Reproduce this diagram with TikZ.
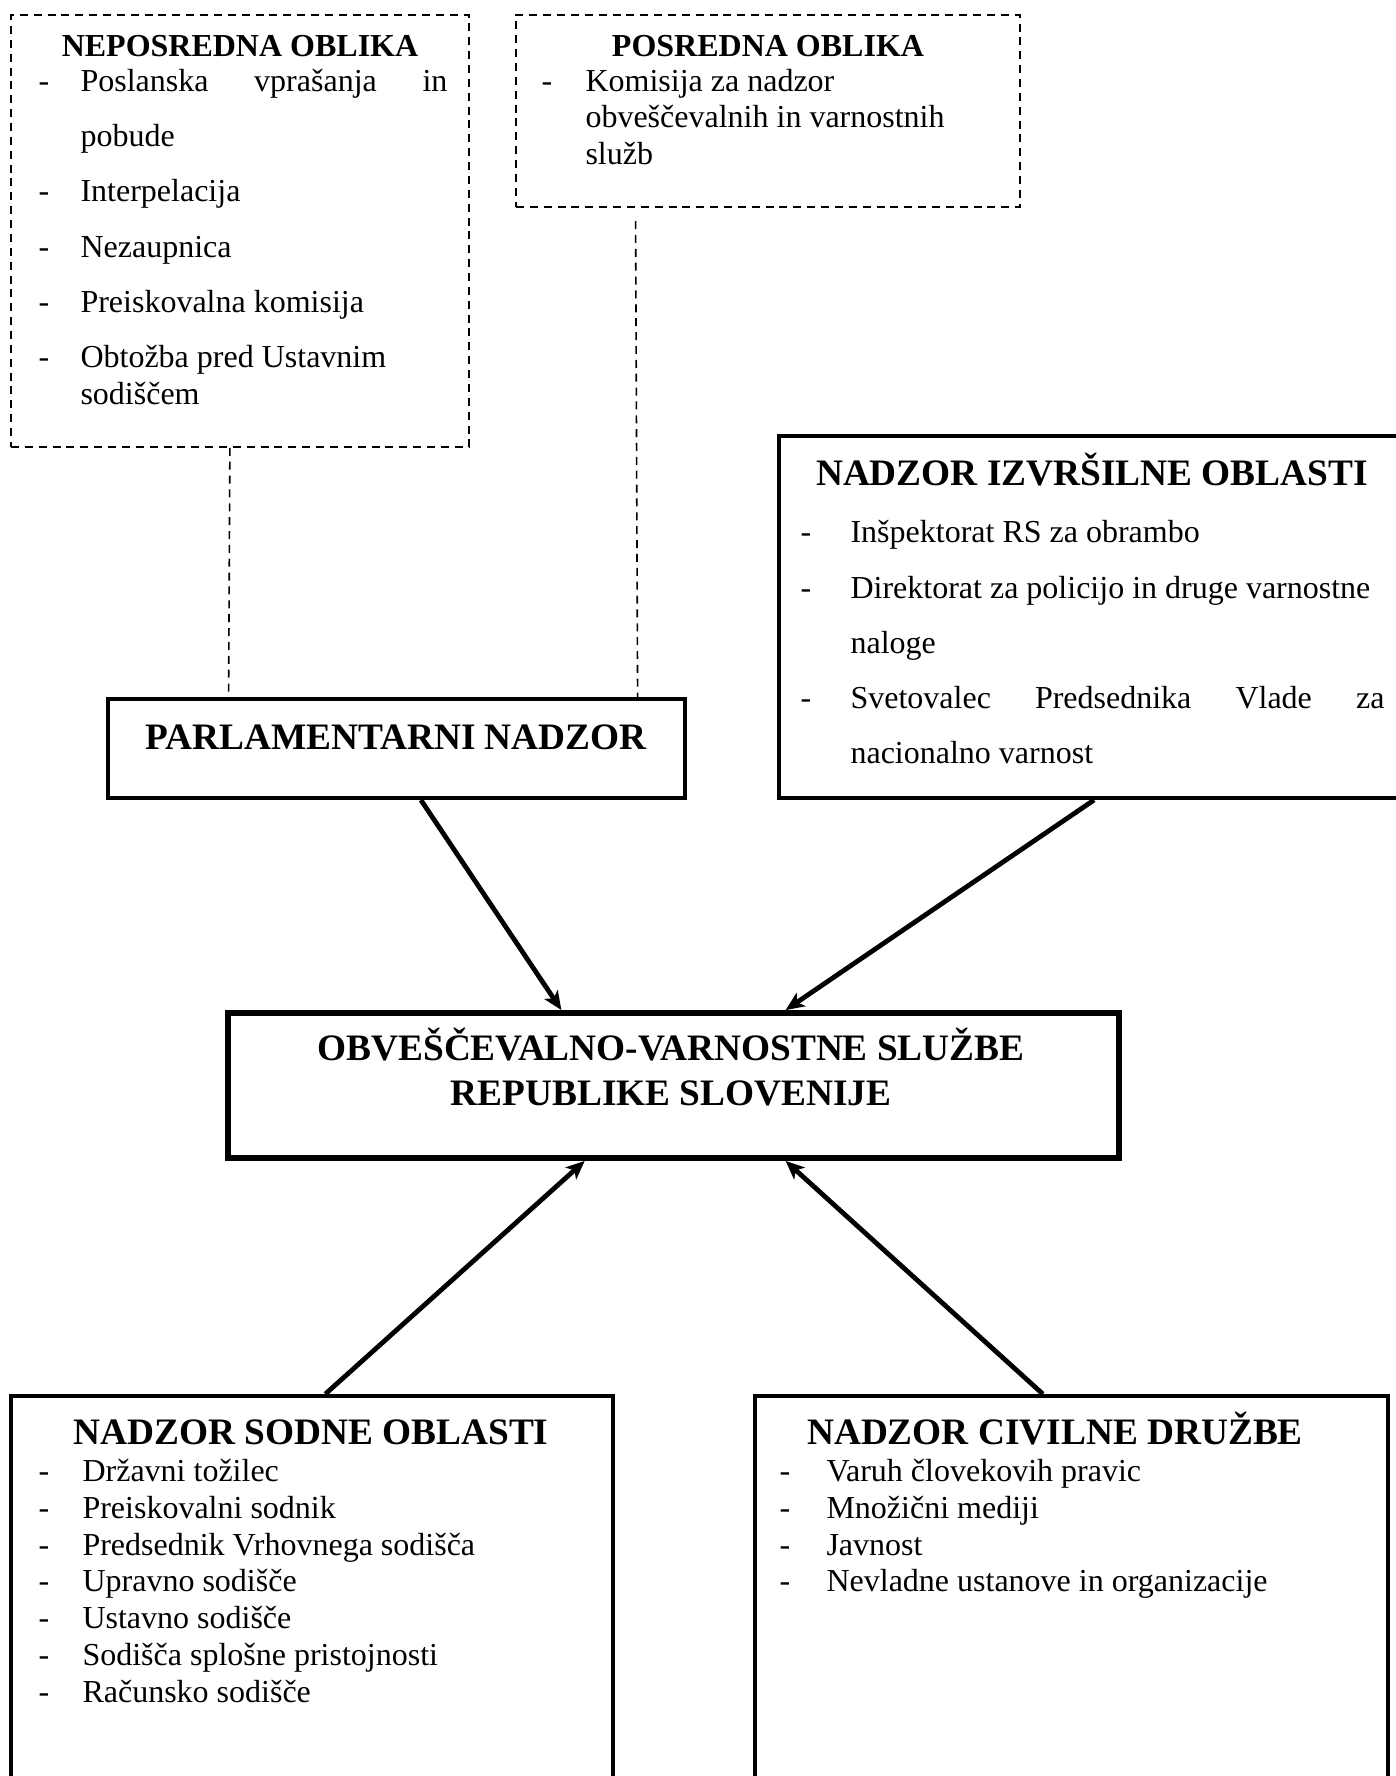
\documentclass[tikz,border=0pt]{standalone}
\usepackage{fontspec}
\setmainfont{Liberation Serif}
\usetikzlibrary{fit,calc,arrows.meta}
\begin{document}
\begin{tikzpicture}[x=0.375pt,y=-0.375pt,
  dbox/.style={draw, dash pattern=on 3pt off 2.2pt, line width=0.6pt, inner sep=0pt},
  sbox/.style={draw, line width=1.5pt, inner sep=0pt},
  cbox/.style={draw, line width=2.2pt, inner sep=0pt},
  hd/.style={anchor=base, inner sep=0pt, font=\fontsize{12}{14}\selectfont\bfseries},
  hdb/.style={anchor=base, inner sep=0pt, font=\fontsize{14}{16}\selectfont\bfseries},
  itm/.style={anchor=base west, inner sep=0pt, font=\fontsize{12}{14}\selectfont},
  dconn/.style={dash pattern=on 3pt off 2.2pt, line width=0.6pt},
  arr/.style={line width=1.8pt, -{Stealth[length=7pt, width=6pt, inset=1.8pt]}},
]
\useasboundingbox (0,0) rectangle (1396,1776);
\fill[white] (0,0) rectangle (1396,1776);

% boxes
\node[dbox, fit={(11,15) (469,447)}] (nep) {};
\node[dbox, fit={(516,15) (1020,207)}] (pos) {};
\node[sbox, fit={(108,699) (685,798)}] (parl) {};
\node[sbox, fit={(779,436) (1404,798)}] (izv) {};
\node[cbox, fit={(228,1013) (1119,1158)}] (ovs) {};
\node[sbox, fit={(11,1396) (613,1784)}] (sod) {};
\node[sbox, fit={(755,1396) (1388,1784)}] (civ) {};

% NEPOSREDNA OBLIKA
\node[hd] (nh) at (240,57) {NEPOSREDNA OBLIKA};
\node[itm] (nd1) at (38,92) {-};
\node[itm] (n1) at (80,92) {\makebox[137.6pt][s]{Poslanska\hfill vprašanja\hfill in}};
\node[itm] (n1b) at (80,147) {pobude};
\node[itm] (nd2) at (38,202) {-};
\node[itm] (n2) at (80,202) {Interpelacija};
\node[itm] (nd3) at (38,258) {-};
\node[itm] (n3) at (80,258) {Nezaupnica};
\node[itm] (nd4) at (38,313) {-};
\node[itm] (n4) at (80,313) {Preiskovalna komisija};
\node[itm] (nd5) at (38,367) {-};
\node[itm] (n5) at (80,367) {Obtožba pred Ustavnim};
\node[itm] (n5b) at (80,404) {sodiščem};

% POSREDNA OBLIKA
\node[hd] (ph) at (768,57) {POSREDNA OBLIKA};
\node[itm] (pd1) at (541,92) {-};
\node[itm] (p1) at (585,92) {Komisija za nadzor};
\node[itm] (p1b) at (585,128) {obveščevalnih in varnostnih};
\node[itm] (p1c) at (585,165) {služb};

% PARLAMENTARNI NADZOR
\node[hdb] (parlt) at (396,749) {PARLAMENTARNI NADZOR};

% NADZOR IZVRSILNE OBLASTI
\node[hdb] (ih) at (1092,485) {NADZOR IZVRŠILNE OBLASTI};
\node[itm] (id1) at (800,542) {-};
\node[itm] (i1) at (850,542) {Inšpektorat RS za obrambo};
\node[itm] (id2) at (800,598) {-};
\node[itm] (i2) at (850,598) {Direktorat za policijo in druge varnostne};
\node[itm] (i2b) at (850,653) {naloge};
\node[itm] (id3) at (800,708) {-};
\node[itm] (i3) at (850,708) {\makebox[200.2pt][s]{Svetovalec\hfill Predsednika\hfill Vlade\hfill za}};
\node[itm] (i3b) at (850,763) {nacionalno varnost};

% central
\node[hdb] (c1) at (671,1060) {OBVEŠČEVALNO-VARNOSTNE SLUŽBE};
\node[hdb] (c2) at (671,1105) {REPUBLIKE SLOVENIJE};

% NADZOR SODNE OBLASTI
\node[hdb] (sh) at (311,1444) {NADZOR SODNE OBLASTI};
\node[itm] (sd1) at (38,1481) {-};
\node[itm] (s1) at (82,1481) {Državni tožilec};
\node[itm] (sd2) at (38,1518) {-};
\node[itm] (s2) at (82,1518) {Preiskovalni sodnik};
\node[itm] (sd3) at (38,1555) {-};
\node[itm] (s3) at (82,1555) {Predsednik Vrhovnega sodišča};
\node[itm] (sd4) at (38,1591) {-};
\node[itm] (s4) at (82,1591) {Upravno sodišče};
\node[itm] (sd5) at (38,1628) {-};
\node[itm] (s5) at (82,1628) {Ustavno sodišče};
\node[itm] (sd6) at (38,1665) {-};
\node[itm] (s6) at (82,1665) {Sodišča splošne pristojnosti};
\node[itm] (sd7) at (38,1702) {-};
\node[itm] (s7) at (82,1702) {Računsko sodišče};

% NADZOR CIVILNE DRUZBE
\node[hdb] (ch) at (1055,1444) {NADZOR CIVILNE DRUŽBE};
\node[itm] (cd1) at (779,1481) {-};
\node[itm] (cv1) at (826,1481) {Varuh človekovih pravic};
\node[itm] (cd2) at (779,1518) {-};
\node[itm] (cv2) at (826,1518) {Množični mediji};
\node[itm] (cd3) at (779,1555) {-};
\node[itm] (cv3) at (826,1555) {Javnost};
\node[itm] (cd4) at (779,1591) {-};
\node[itm] (cv4) at (826,1591) {Nevladne ustanove in organizacije};

% dashed connectors
\draw[dconn] ($(nep.south west)!0.478!(nep.south east)$) -- ($(parl.north west)!0.211!(parl.north east)$);
\draw[dconn, shorten <=5pt] ($(pos.south west)!0.238!(pos.south east)$) -- ($(parl.north west)!0.915!(parl.north east)$);

% arrows
\draw[arr] ($(parl.south west)!0.542!(parl.south east)$) -- ($(ovs.north west)!0.375!(ovs.north east)$);
\draw[arr] ($(izv.south west)!0.504!(izv.south east)$) -- ($(ovs.north west)!0.625!(ovs.north east)$);
\draw[arr] ($(sod.north west)!0.522!(sod.north east)$) -- ($(ovs.south west)!0.401!(ovs.south east)$);
\draw[arr] ($(civ.north west)!0.455!(civ.north east)$) -- ($(ovs.south west)!0.625!(ovs.south east)$);
\end{tikzpicture}
\end{document}
